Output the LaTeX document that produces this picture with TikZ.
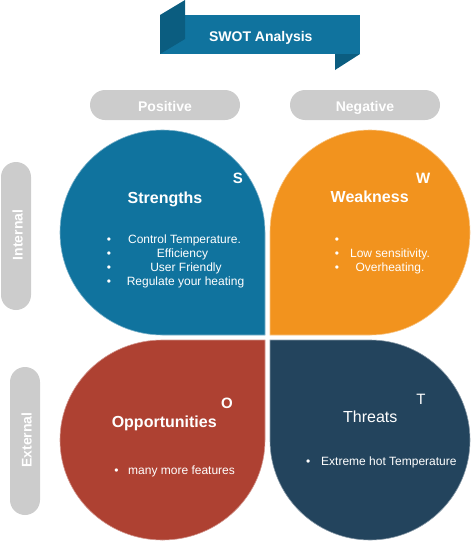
\documentclass[tikz,border=0pt]{standalone}
\usepackage{fontspec}
\setmainfont{Liberation Sans}
\definecolor{sblue}{HTML}{10739E}
\definecolor{sbluedark}{HTML}{0B5D80}
\definecolor{worange}{HTML}{F2931E}
\definecolor{ored}{HTML}{AE4132}
\definecolor{tnavy}{HTML}{23445D}
\definecolor{pillgray}{HTML}{CCCCCC}
\tikzset{
  lbl/.style={text=white, font=\bfseries\fontsize{14}{16}\selectfont, inner sep=0pt},
  pillbox/.style={fill=pillgray, rounded corners=15pt, inner sep=0pt},
  head/.style={text=white, font=\bfseries\fontsize{16}{19}\selectfont, anchor=base, inner sep=0pt},
  headreg/.style={text=white, font=\fontsize{16}{19}\selectfont, anchor=base, inner sep=0pt},
  letter/.style={text=white, font=\bfseries\fontsize{15}{17}\selectfont, anchor=base, inner sep=0pt},
  letterreg/.style={text=white, font=\fontsize{15}{17}\selectfont, anchor=base, inner sep=0pt},
  item/.style={text=white, font=\fontsize{12}{14}\selectfont, anchor=base, inner sep=0pt},
  dot/.style={text=white, font=\fontsize{12}{14}\selectfont, anchor=base, inner sep=0pt},
}
\begin{document}
\begin{tikzpicture}[x=1pt,y=-1pt]
\useasboundingbox (0,0) rectangle (471,541);

% title banner
\node[fill=sblue, minimum width=200pt, minimum height=39pt, inner sep=0pt] (title) at (260,34.5) {};
\fill[sbluedark] (160,15) -- (185,0) -- (185,39) -- (160,54) -- cycle;
\fill[sbluedark] (335,54) -- (360,54) -- (335,70) -- cycle;
\node[lbl, anchor=base] (titletext) at (260.8,41) {SWOT Analysis};

% column / row labels
\node[pillbox, minimum width=150pt, minimum height=30pt] (pos) at (165,105) {};
\node[lbl, anchor=base] (postext) at (165,111) {Positive};
\node[pillbox, minimum width=150pt, minimum height=30pt] (neg) at (365,105) {};
\node[lbl, anchor=base] (negtext) at (365,111) {Negative};
\node[pillbox, minimum width=30pt, minimum height=148pt] (int) at (16,236) {};
\node[lbl, rotate=90] (inttext) at (17.5,235) {Internal};
\node[pillbox, minimum width=30pt, minimum height=148pt] (ext) at (25,441) {};
\node[lbl, rotate=90] (exttext) at (26.5,440) {External};

% quadrants
\path[fill=sblue, draw=sblue!55!white, line width=0.6pt]
  (265,335) -- (162.5,335) .. controls (105.9,335) and (60,289.1) .. (60,232.5)
  .. controls (60,175.9) and (105.9,130) .. (162.5,130)
  .. controls (219.1,130) and (265,175.9) .. (265,232.5) -- cycle;
\path[fill=worange, draw=worange!55!white, line width=0.6pt]
  (270,335) -- (270,232.5) .. controls (270,175.9) and (314.8,130) .. (370,130)
  .. controls (425.2,130) and (470,175.9) .. (470,232.5)
  .. controls (470,289.1) and (425.2,335) .. (370,335) -- cycle;
\path[fill=ored, draw=ored!55!white, line width=0.6pt]
  (265,340) -- (265,440) .. controls (265,495.2) and (219.1,540) .. (162.5,540)
  .. controls (105.9,540) and (60,495.2) .. (60,440)
  .. controls (60,384.8) and (105.9,340) .. (162.5,340) -- cycle;
\path[fill=tnavy, draw=tnavy!55!white, line width=0.6pt]
  (270,340) -- (370,340) .. controls (425.2,340) and (470,384.8) .. (470,440)
  .. controls (470,495.2) and (425.2,540) .. (370,540)
  .. controls (314.8,540) and (270,495.2) .. (270,440) -- cycle;

% Strengths
\node[letter] (sl) at (238,183) {S};
\node[head] (sh) at (165,203) {Strengths};
\node[dot] (sb1) at (109,243) {•};
\node[item] (si1) at (184.5,243) {Control Temperature.};
\node[dot] (sb2) at (109,257) {•};
\node[item] (si2) at (182.5,257) {Efficiency};
\node[dot] (sb3) at (109,271) {•};
\node[item] (si3) at (186,271) {User Friendly};
\node[dot] (sb4) at (109,285) {•};
\node[item] (si4) at (185.5,285) {Regulate your heating};

% Weakness
\node[letter] (wl) at (423.3,183) {W};
\node[head] (wh) at (369.7,202) {Weakness};
\node[dot] (wb1) at (337,243) {•};
\node[dot] (wb2) at (337,257) {•};
\node[item] (wi2) at (390,257) {Low sensitivity.};
\node[dot] (wb3) at (337,271) {•};
\node[item] (wi3) at (390,271) {Overheating.};

% Opportunities
\node[letter] (ol) at (227,408.6) {O};
\node[head] (oh) at (164.2,427.8) {Opportunities};
\node[dot] (ob1) at (116.4,474) {•};
\node[item, anchor=base west] (oi1) at (128,474) {many more features};

% Threats
\node[letterreg] (tl) at (421,404) {T};
\node[headreg] (th) at (370.3,422.7) {Threats};
\node[dot] (tb1) at (308.3,465) {•};
\node[item, anchor=base west] (ti1) at (321,465) {Extreme hot Temperature};
\end{tikzpicture}
\end{document}
